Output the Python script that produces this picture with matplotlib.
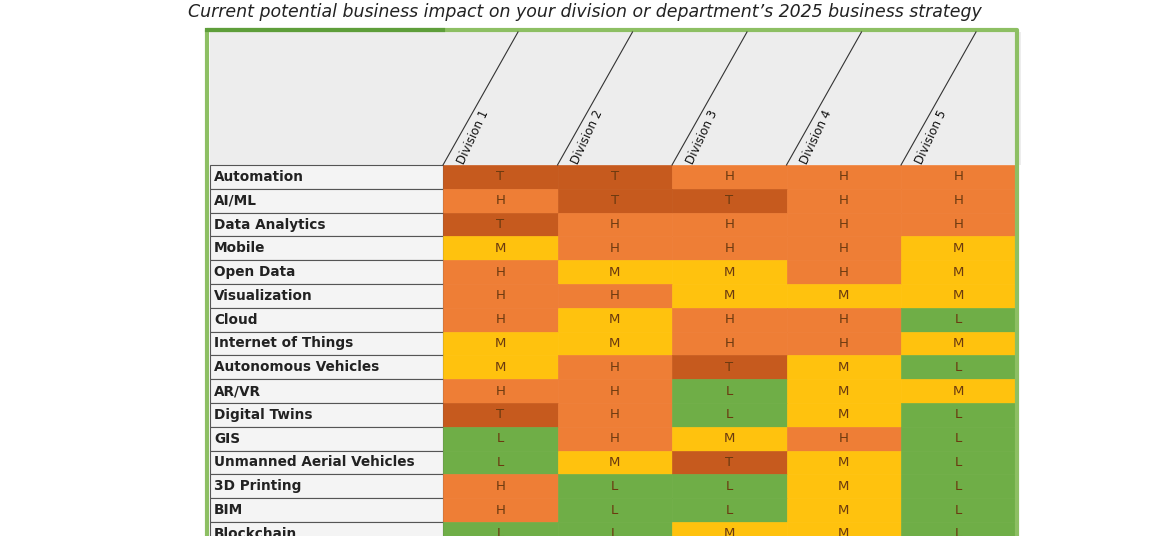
import matplotlib.pyplot as plt
from matplotlib.patches import Rectangle

title = "Current potential business impact on your division or department\u2019s 2025 business strategy"
divisions = ["Division 1", "Division 2", "Division 3", "Division 4", "Division 5"]
technologies = ["Automation", "AI/ML", "Data Analytics", "Mobile", "Open Data",
                "Visualization", "Cloud", "Internet of Things", "Autonomous Vehicles",
                "AR/VR", "Digital Twins", "GIS", "Unmanned Aerial Vehicles",
                "3D Printing", "BIM", "Blockchain"]
ratings = [
    "TTHHH", "HTTHH", "THHHH", "MHHHM", "HMMHM", "HHMMM", "HMHHL", "MMHHM",
    "MHTML", "HHLMM", "THLML", "LHMHL", "LMTML", "HLLML", "HLLML", "LLMML",
]
colors = {"T": "#C65A1E", "H": "#EE7E36", "M": "#FFC20E", "L": "#6FAE47"}

fig = plt.figure(figsize=(11.7, 5.36), dpi=100)
ax = fig.add_axes([0, 0, 1, 1])
ax.set_xlim(0, 1170)
ax.set_ylim(536, 0)
ax.axis("off")

x0, lab_w, col_w = 210, 233, 114.5
top, head_h, row_h = 32, 133, 23.8

ax.text(585, 12, title, ha="center", va="center", fontsize=12.5, style="italic",
        color="#222222")
# header background
ax.add_patch(Rectangle((x0, top), lab_w + col_w * 5 + 5, head_h, fc="#EDEDED", ec="none"))
ax.plot([207, 207, 1017, 1017], [540, 30, 30, 540], color="#8DBF63", lw=3)
ax.plot([207, 443], [30, 30], color="#5E9E3A", lw=3)

y_base = top + head_h
for j, d in enumerate(divisions):
    xl = x0 + lab_w + j * col_w
    ax.plot([xl, xl + 75], [y_base, top], color="#333333", lw=0.8)
    ax.text(xl + 30, y_base - 28, d, rotation=65, ha="center", va="center",
            fontsize=8.5, color="#111111")

for i, (tech, row) in enumerate(zip(technologies, ratings)):
    y = y_base + i * row_h
    ax.add_patch(Rectangle((x0, y), lab_w, row_h, fc="#F4F4F4", ec="#555555", lw=0.8))
    ax.text(x0 + 4, y + row_h / 2, tech, ha="left", va="center", fontsize=9.8,
            fontweight="bold", color="#222222")
    for j, r in enumerate(row):
        xl = x0 + lab_w + j * col_w
        ax.add_patch(Rectangle((xl, y), col_w, row_h, fc=colors[r], ec=colors[r], lw=0.5))
        ax.text(xl + col_w / 2, y + row_h / 2, r, ha="center", va="center",
                fontsize=9.5, color="#6B3A10")

fig.savefig("out.png", dpi=100)
